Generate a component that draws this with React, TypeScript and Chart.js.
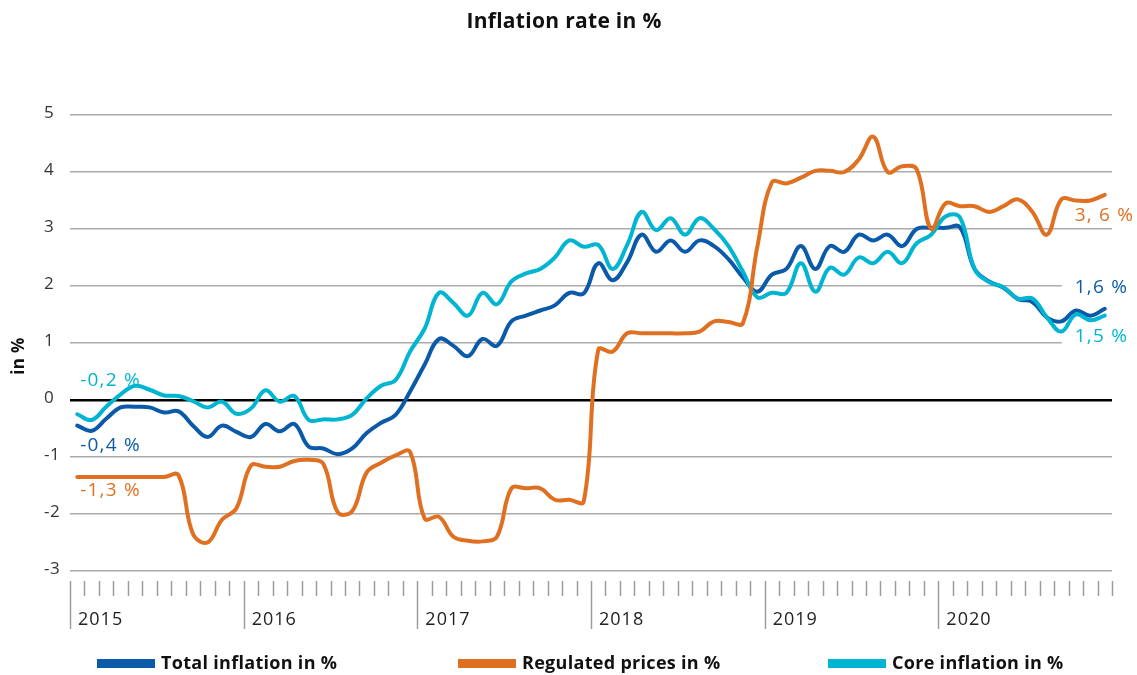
import React, { useEffect, useRef } from "react";
import { Chart, registerables } from "chart.js";

Chart.register(...registerables);

// ---------- DATA ----------
const years = [2015, 2016, 2017, 2018, 2019, 2020];
const monthsPerYear = 12;
const categories = years.flatMap((y) =>
  Array.from({ length: monthsPerYear }, (_, m) => `${y}-${String(m + 1).padStart(2, "0")}`)
);

const totalInflation = [
  -0.45, -0.54, -0.33, -0.13, -0.12, -0.13, -0.22, -0.2, -0.45, -0.65, -0.45, -0.56,
  -0.65, -0.42, -0.55, -0.42, -0.82, -0.85, -0.95, -0.85, -0.58, -0.4, -0.26, 0.15,
  0.62, 1.07, 0.95, 0.77, 1.07, 0.95, 1.38, 1.48, 1.57, 1.66, 1.88, 1.87,
  2.4, 2.1, 2.42, 2.9, 2.6, 2.8, 2.6, 2.8, 2.7, 2.47, 2.15, 1.9,
  2.2, 2.3, 2.7, 2.3, 2.7, 2.6, 2.9, 2.8, 2.9, 2.7, 3.0, 3.02,
  3.02, 3.03, 2.3, 2.08, 1.97, 1.77, 1.72, 1.45, 1.38, 1.57, 1.48, 1.6,
];

const regulatedPrices = [
  -1.35, -1.35, -1.35, -1.35, -1.35, -1.35, -1.35, -1.32, -2.35, -2.5, -2.1, -1.9,
  -1.15, -1.17, -1.17, -1.07, -1.05, -1.12, -1.97, -1.95, -1.27, -1.1, -0.97, -0.91,
  -2.08, -2.05, -2.4, -2.47, -2.48, -2.4, -1.55, -1.55, -1.55, -1.75, -1.75, -1.78,
  0.88, 0.85, 1.17, 1.17, 1.17, 1.17, 1.17, 1.2, 1.38, 1.37, 1.35, 2.7,
  3.82, 3.8, 3.9, 4.02, 4.02, 4.0, 4.22, 4.62, 4.0, 4.1, 4.05, 3.0,
  3.45, 3.4, 3.4, 3.3, 3.4, 3.52, 3.3, 2.9, 3.52, 3.5, 3.5, 3.6,
];

const coreInflation = [
  -0.25, -0.35, -0.12, 0.1, 0.25, 0.18, 0.08, 0.07, -0.02, -0.13, -0.03, -0.24,
  -0.15, 0.17, -0.03, 0.07, -0.35, -0.34, -0.34, -0.26, 0.03, 0.25, 0.35, 0.85,
  1.25, 1.88, 1.7, 1.48, 1.88, 1.68, 2.08, 2.22, 2.3, 2.5, 2.8, 2.69,
  2.72, 2.3, 2.72, 3.3, 2.98, 3.19, 2.9, 3.19, 3.0, 2.7, 2.25, 1.8,
  1.88, 1.88, 2.4, 1.9, 2.32, 2.2, 2.5, 2.4, 2.6, 2.4, 2.75, 2.9,
  3.22, 3.2, 2.3, 2.07, 1.98, 1.78, 1.78, 1.45, 1.2, 1.5, 1.4, 1.48,
];

const yMin = -3;
const yMax = 5;
const yStep = 1;

const titleText = "Inflation rate in %";
const yAxisTitle = "in %";
const seriesNames = ["Total inflation in %", "Regulated prices in %", "Core inflation in %"];
const startLabels = ["-0,4 %", "-1,3 %", "-0,2 %"];
const endLabels = ["1,6 %", "3, 6 %", "1,5 %"];

// ---------- STYLE ----------
const seriesColors = ["#0b5aa9", "#e07021", "#00b5d1"];
const drawOrder = [2, 0, 1];
const startDy = [20, 14, -34];
const endDy = [-21, 21, 21];
const FONT = '"Open Sans", "DejaVu Sans", sans-serif';
const LABEL_FONT = `19px ${FONT}`;
const LABEL_SPACING = "1.2px";
const legendX = [97, 458, 828];

const setSpacing = (ctx: any, v: string) => {
  ctx.letterSpacing = v;
};

const decorPlugin = {
  id: "decor",
  beforeDatasetsDraw(chart: any) {
    const { ctx } = chart;
    const xs = chart.scales.x;
    const ys = chart.scales.y;
    ctx.save();
    ctx.font = LABEL_FONT;
    setSpacing(ctx, LABEL_SPACING);
    chart.data.datasets.forEach((ds: any, i: number) => {
      const data = ds.data as number[];
      const last = data.length - 1;
      const x = xs.getPixelForValue(last) - 30;
      const y = ys.getPixelForValue(data[last]) + endDy[i];
      const w = ctx.measureText(endLabels[i]).width;
      ctx.fillStyle = "#ffffff";
      ctx.fillRect(x - 13, y - 10, w + 20, 20);
    });
    ctx.restore();
  },
  afterDatasetsDraw(chart: any) {
    const { ctx } = chart;
    const xs = chart.scales.x;
    const ys = chart.scales.y;
    ctx.save();
    ctx.font = LABEL_FONT;
    setSpacing(ctx, LABEL_SPACING);
    ctx.textBaseline = "middle";
    ctx.textAlign = "left";
    chart.data.datasets.forEach((ds: any, i: number) => {
      const data = ds.data as number[];
      const last = data.length - 1;
      ctx.fillStyle = seriesColors[i];
      ctx.fillText(startLabels[i], xs.getPixelForValue(0) + 3, ys.getPixelForValue(data[0]) + startDy[i]);
      ctx.fillText(endLabels[i], xs.getPixelForValue(last) - 30, ys.getPixelForValue(data[last]) + endDy[i]);
    });
    ctx.restore();
  },
  afterDraw(chart: any) {
    const { ctx, chartArea } = chart;
    const xs = chart.scales.x;
    const ys = chart.scales.y;
    ctx.save();

    // title
    ctx.fillStyle = "#111";
    ctx.font = `bold 21px ${FONT}`;
    setSpacing(ctx, "0.3px");
    ctx.textAlign = "center";
    ctx.textBaseline = "middle";
    ctx.fillText(titleText, 564, 22);

    // y axis title
    ctx.save();
    ctx.translate(19, 356);
    ctx.rotate(-Math.PI / 2);
    ctx.font = `bold 17px ${FONT}`;
    ctx.fillText(yAxisTitle, 0, 0);
    ctx.restore();

    // y tick labels
    ctx.font = `17px ${FONT}`;
    setSpacing(ctx, "0.5px");
    ctx.fillStyle = "#333";
    ctx.textAlign = "left";
    ctx.textBaseline = "middle";
    ys.ticks.forEach((t: any) => {
      ctx.fillText(String(t.value), 44, ys.getPixelForValue(t.value) - 2);
    });

    // x axis month ticks and year separators
    const n = categories.length;
    const half = (xs.getPixelForValue(1) - xs.getPixelForValue(0)) / 2;
    const top = chartArea.bottom + 10;
    ctx.strokeStyle = "#9c9c9c";
    ctx.lineWidth = 1.5;
    for (let k = 0; k <= n; k++) {
      const px = k < n ? xs.getPixelForValue(k) - half : xs.getPixelForValue(n - 1) + half;
      const isYear = k % monthsPerYear === 0 && k < n;
      const xx = Math.round(px) + 0.5;
      ctx.beginPath();
      ctx.moveTo(xx, top);
      ctx.lineTo(xx, isYear ? top + 48 : top + 15);
      ctx.stroke();
    }

    // year labels
    ctx.fillStyle = "#222";
    ctx.font = `18px ${FONT}`;
    setSpacing(ctx, "1px");
    years.forEach((yr, yi) => {
      const px = xs.getPixelForValue(yi * monthsPerYear) - half + 8;
      ctx.fillText(String(yr), px, chartArea.bottom + 49);
    });

    // legend
    setSpacing(ctx, "0.3px");
    ctx.font = `bold 18px ${FONT}`;
    seriesNames.forEach((name, i) => {
      const lx = legendX[i];
      ctx.fillStyle = seriesColors[i];
      ctx.fillRect(lx, 659, 58, 9);
      ctx.fillStyle = "#111";
      ctx.fillText(name, lx + 64, 664);
    });

    ctx.restore();
  },
};

export default function App() {
  const canvasRef = useRef<HTMLCanvasElement | null>(null);

  useEffect(() => {
    document.body.style.margin = "0";
    const canvas = canvasRef.current;
    if (!canvas) return;
    const seriesData = [totalInflation, regulatedPrices, coreInflation];
    const chart = new Chart(canvas, {
      type: "line",
      data: {
        labels: categories,
        datasets: seriesData.map((d, i) => ({
          label: seriesNames[i],
          data: d,
          borderColor: seriesColors[i],
          backgroundColor: seriesColors[i],
          borderWidth: 4,
          pointRadius: 0,
          pointHoverRadius: 0,
          tension: 0.4,
          fill: false,
          borderCapStyle: "round",
          borderJoinStyle: "round",
          order: drawOrder[i],
        })),
      },
      options: {
        animation: false,
        responsive: false,
        devicePixelRatio: 1,
        layout: { padding: { left: 44, right: 25, top: 115, bottom: 104 } },
        plugins: {
          legend: { display: false },
          title: { display: false },
          tooltip: { enabled: false },
        },
        scales: {
          x: {
            type: "category",
            display: false,
            offset: true,
          },
          y: {
            min: yMin,
            max: yMax,
            ticks: { stepSize: yStep, display: false },
            border: { display: false },
            grid: {
              drawTicks: false,
              color: (c: any) => (c.tick && c.tick.value === 0 ? "#000000" : "#ababab"),
              lineWidth: (c: any) => (c.tick && c.tick.value === 0 ? 2.5 : 1.6),
            },
            afterFit: (scale: any) => {
              scale.width = 26;
            },
          },
        },
      },
      plugins: [decorPlugin],
    });
    return () => chart.destroy();
  }, []);

  return (
    <div style={{ width: 1137, height: 675, background: "#fff" }}>
      <canvas ref={canvasRef} width={1137} height={675} style={{ display: "block" }} />
    </div>
  );
}
